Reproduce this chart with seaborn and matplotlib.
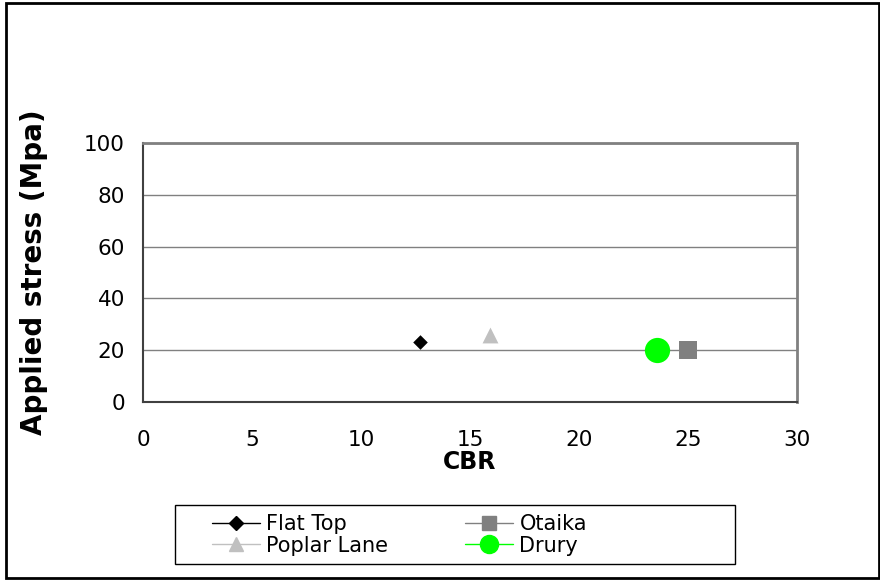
import matplotlib
matplotlib.use("Agg")
import matplotlib.pyplot as plt
import seaborn as sns
import pandas as pd
from matplotlib.lines import Line2D
from matplotlib.patches import Rectangle

sites = ["Flat Top", "Otaika", "Poplar Lane", "Drury"]
cbr = [12.7, 25.0, 15.9, 23.6]
stress = [23, 20, 26, 20]
markers = ["D", "s", "^", "o"]
colors = ["#000000", "#808080", "#c0c0c0", "#00ff00"]
sizes = [55, 150, 130, 330]
x_ticks = [0, 5, 10, 15, 20, 25, 30]
y_ticks = [0, 20, 40, 60, 80, 100]

df = pd.DataFrame({"site": sites, "cbr": cbr, "stress": stress})

sns.set_style("white")
plt.rcParams["font.family"] = ["DejaVu Sans"]
plt.rcParams["text.color"] = "#000000"
plt.rcParams["axes.labelcolor"] = "#000000"
plt.rcParams["xtick.color"] = "#000000"
plt.rcParams["ytick.color"] = "#000000"

W, H = 880, 580
fig = plt.figure(figsize=(W / 100, H / 100), dpi=100)
ax = fig.add_axes([143 / W, 1 - 402 / H, (797 - 143) / W, (402 - 143) / H])

for site, m, c, s in zip(sites, markers, colors, sizes):
    sns.scatterplot(data=df[df["site"] == site], x="cbr", y="stress",
                    marker=m, color=c, s=s, edgecolor=c, linewidth=0,
                    ax=ax, legend=False, zorder=3)

ax.set_xlim(0, 30)
ax.set_ylim(0, 100)
ax.set_xticks(x_ticks)
ax.set_yticks(y_ticks)
ax.tick_params(axis="both", labelsize=15.5, length=6, width=1,
               direction="out", color="#000000", pad=7)
ax.tick_params(axis="x", pad=14)
ax.yaxis.grid(True, color="#808080", linewidth=1)
ax.set_axisbelow(True)

for side in ["top", "right"]:
    ax.spines[side].set_color("#808080")
    ax.spines[side].set_linewidth(2)
for side in ["left", "bottom"]:
    ax.spines[side].set_color("#404040")
    ax.spines[side].set_linewidth(1.5)

ax.set_xlabel("CBR", fontsize=17, fontweight="bold", labelpad=0)
ax.set_ylabel("Applied stress (Mpa)", fontsize=20, fontweight="bold", labelpad=26)

# legend entries in row order: Flat Top, Otaika / Poplar Lane, Drury
legend_order = [0, 2, 1, 3]
ms_list = [7, 9.5, 9.5, 13]
handles = []
for i in legend_order:
    handles.append(Line2D([0], [0], color=colors[i], marker=markers[i],
                          markersize=ms_list[i], markerfacecolor=colors[i],
                          markeredgecolor=colors[i], linewidth=1,
                          label=sites[i]))
leg = fig.legend(handles=handles, loc="center left",
                 bbox_to_anchor=(212 / W, 1 - 535 / H),
                 ncol=2, fontsize=15, frameon=False, handlelength=2.3,
                 handletextpad=0.3, columnspacing=3.7, labelspacing=0.05,
                 borderpad=0, borderaxespad=0)

# legend box
fig.patches.append(Rectangle((175 / W, 1 - 564 / H), (735 - 175) / W, (564 - 505) / H,
                             transform=fig.transFigure, fill=False,
                             edgecolor="#000000", linewidth=1))

# outer chart frame
fig.patches.append(Rectangle((6 / W, 2 / H), (W - 7) / W, (H - 5) / H,
                             transform=fig.transFigure, fill=False,
                             edgecolor="#000000", linewidth=2))

fig.savefig("out.png", dpi=100)
